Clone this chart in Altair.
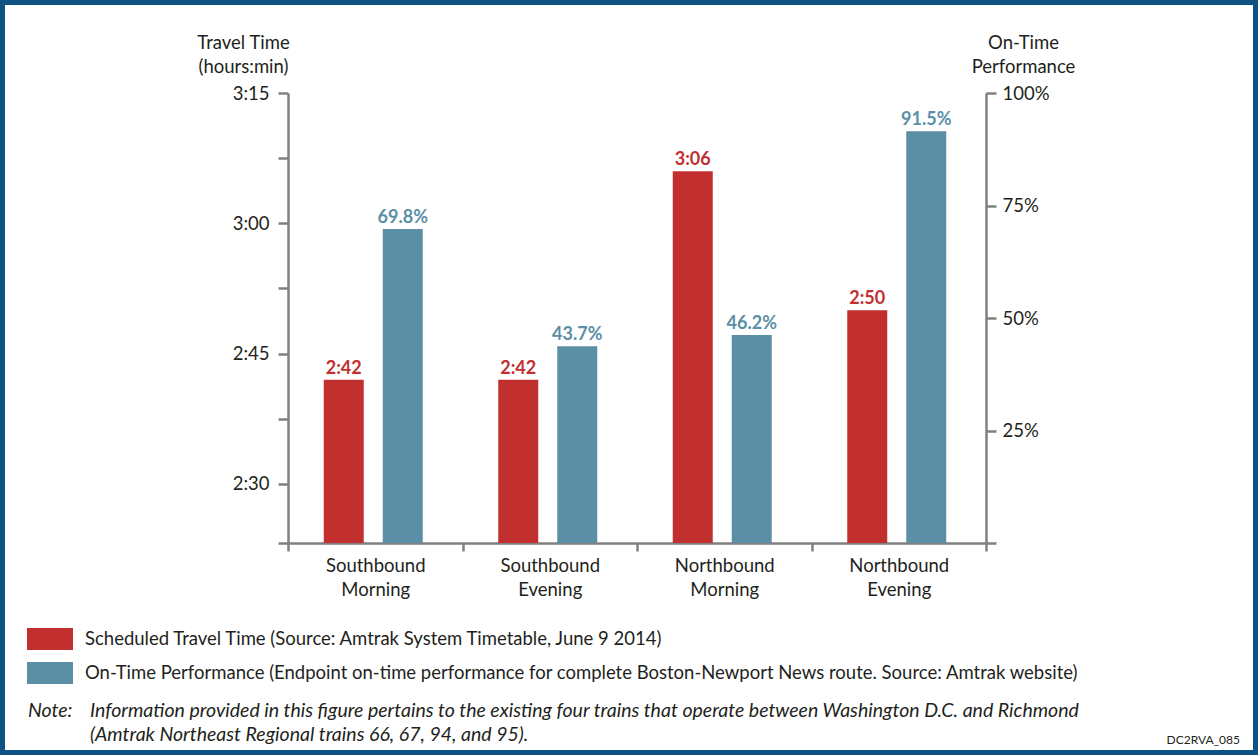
import altair as alt
import pandas as pd

categories = ["Southbound Morning", "Southbound Evening", "Northbound Morning", "Northbound Evening"]
travel_minutes = [162, 162, 186, 170]
travel_labels = ["2:42", "2:42", "3:06", "2:50"]
ontime_pct = [69.8, 43.7, 46.2, 91.5]
ontime_labels = ["69.8%", "43.7%", "46.2%", "91.5%"]

left_ticks = [143.2, 150, 157.5, 165, 172.5, 180, 187.5, 195]
right_ticks = [0, 25, 50, 75, 100]

legend_labels = [
    "Scheduled Travel Time (Source: Amtrak System Timetable, June 9 2014)",
    "On-Time Performance (Endpoint on-time performance for complete Boston-Newport News route.  Source: Amtrak website)",
]
note_head = ["Note:"]
note_lines = [
    "Information provided in this figure pertains to the existing four trains that operate between Washington D.C. and Richmond",
    "(Amtrak Northeast Regional trains 66, 67, 94, and 95).",
]
figure_id = ["DC2RVA_085"]

RED = "#c1302f"
TEAL = "#5b8fa6"
TXT = "#231f20"
AX = "#808080"
FONT = "Lato"

df = pd.DataFrame({
    "cat": categories,
    "travel": travel_minutes,
    "tlab": travel_labels,
    "ontime": ontime_pct,
    "olab": ontime_labels,
})

W, H = 698, 450
BW = 40

x_axis = alt.Axis(title=None, labelExpr="split(datum.label, ' ')",
                  labelAngle=0, labelFontSize=18.5, labelLineHeight=24,
                  labelColor=TXT, labelFont=FONT, labelPadding=5,
                  tickBand="extent", tickSize=8, tickWidth=2.5, tickColor=AX,
                  domainColor=AX, domainWidth=2.5, grid=False)
x_scale = alt.Scale(paddingInner=0, paddingOuter=0)

def xenc():
    return alt.X("cat:N", sort=categories, scale=x_scale, axis=x_axis)

color_scale = alt.Scale(domain=legend_labels, range=[RED, TEAL])
legend = alt.Legend(title=None, orient="none", legendX=-261, legendY=523,
                    direction="vertical",
                    symbolType="M-1,-0.478H1V0.478H-1Z", symbolSize=2116,
                    symbolStrokeWidth=0, symbolOpacity=1,
                    labelFontSize=18.5, labelFont=FONT, labelColor=TXT,
                    labelOffset=12, labelLimit=1200, rowPadding=-8, padding=0)

left_axis = alt.Axis(orient="left", values=left_ticks,
                     labelExpr="datum.value % 15 == 0 ? (floor(datum.value/60) + ':' + (datum.value % 60 < 10 ? '0' : '') + (datum.value % 60)) : ''",
                     title=["Travel Time", "(hours:min)"],
                     titleAngle=0, titleX=-45, titleY=-60, titleAlign="center",
                     titleBaseline="top", titleFontSize=18.5, titleFontWeight="normal",
                     titleFont=FONT, titleColor=TXT, titleLineHeight=24,
                     labelFontSize=18.5, labelFont=FONT, labelColor=TXT, labelPadding=9,
                     tickSize=10, tickWidth=2.5, tickColor=AX,
                     domainColor=AX, domainWidth=2.5, grid=False)
left_scale = alt.Scale(domain=[143.2, 195], nice=False, zero=False)

right_axis = alt.Axis(orient="right", values=right_ticks,
                      labelExpr="datum.value == 0 ? '' : datum.value + '%'",
                      title=["On-Time", "Performance"],
                      titleAngle=0, titleX=37, titleY=-60, titleAlign="center",
                      titleBaseline="top", titleFontSize=18.5, titleFontWeight="normal",
                      titleFont=FONT, titleColor=TXT, titleLineHeight=24,
                      labelFontSize=18.5, labelFont=FONT, labelColor=TXT, labelPadding=6,
                      tickSize=10, tickWidth=2.5, tickColor=AX,
                      domainColor=AX, domainWidth=2.5, grid=False)
right_scale = alt.Scale(domain=[0, 100], nice=False)

base = alt.Chart(df)

red_bars = base.transform_calculate(series="'" + legend_labels[0] + "'").mark_bar(
    width=BW, xOffset=-31.5, clip=True).encode(
    x=xenc(), y=alt.Y("travel:Q", scale=left_scale, axis=left_axis),
    color=alt.Color("series:N", scale=color_scale, legend=legend),
)
red_text = base.mark_text(xOffset=-31.5, dy=-2, baseline="bottom", fontSize=18,
                          fontWeight="bold", font=FONT, color=RED).encode(
    x=xenc(), y=alt.Y("travel:Q", scale=left_scale, axis=left_axis), text="tlab:N")

left_layer = alt.layer(red_bars, red_text)

teal_bars = base.transform_calculate(series="'" + legend_labels[1] + "'").mark_bar(
    width=BW, xOffset=27.5).encode(
    x=xenc(), y=alt.Y("ontime:Q", scale=right_scale, axis=right_axis),
    color=alt.Color("series:N", scale=color_scale, legend=legend),
)
teal_text = base.mark_text(xOffset=27.5, dy=-2, baseline="bottom", fontSize=18,
                           fontWeight="bold", font=FONT, color=TEAL).encode(
    x=xenc(), y=alt.Y("ontime:Q", scale=right_scale, axis=right_axis), text="olab:N")

right_layer = alt.layer(teal_bars, teal_text)

NOTE_FS = 19.5
note_h = alt.Chart(pd.DataFrame({"t": note_head})).mark_text(
    align="left", baseline="middle", fontSize=NOTE_FS, fontStyle="italic", font=FONT, color=TXT
).encode(text="t:N", x=alt.value(-260), y=alt.value(618))
note1 = alt.Chart(pd.DataFrame({"t": note_lines[:1]})).mark_text(
    align="left", baseline="middle", fontSize=NOTE_FS, fontStyle="italic", font=FONT, color=TXT
).encode(text="t:N", x=alt.value(-198), y=alt.value(618))
note2 = alt.Chart(pd.DataFrame({"t": note_lines[1:]})).mark_text(
    align="left", baseline="middle", fontSize=NOTE_FS, fontStyle="italic", font=FONT, color=TXT
).encode(text="t:N", x=alt.value(-198), y=alt.value(642))
fig_id = alt.Chart(pd.DataFrame({"t": figure_id})).mark_text(
    align="right", baseline="middle", fontSize=12, font=FONT, color=TXT
).encode(text="t:N", x=alt.value(952), y=alt.value(647))

frame = alt.Chart(pd.DataFrame({"t": [0]})).mark_rect(
    filled=False, stroke="#0e5283", strokeWidth=5
).encode(x=alt.value(-285.5), x2=alt.value(967.5), y=alt.value(-90.5), y2=alt.value(659.5))

chart = alt.layer(left_layer, right_layer, note_h, note1, note2, fig_id, frame).resolve_scale(
    y="independent"
).properties(
    width=W, height=H,
    autosize=alt.AutoSizeParams(type="none"),
    padding={"left": 288, "top": 93, "right": 1258 - 288 - W, "bottom": 755 - 93 - H},
    background="white",
).configure_view(strokeWidth=0)

chart.save("out.html", embed_options={"renderer": "svg", "actions": False})
